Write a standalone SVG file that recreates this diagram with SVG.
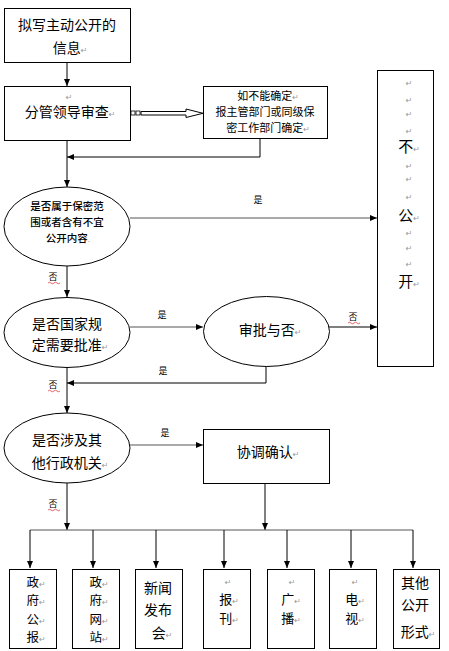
<svg xmlns="http://www.w3.org/2000/svg" width="449" height="651" viewBox="0 0 449 651">
<style>
.bx{fill:#fff;stroke:#000;stroke-width:1}
.t{font-family:"Noto Sans CJK SC","Noto Sans",sans-serif;font-size:14px;fill:#000;text-anchor:middle}
.s{font-size:10.5px}
.m{font-size:11px}
.v{font-size:12.5px}
.w{font-size:13px}
.lb{font-family:"Noto Sans CJK SC",sans-serif;font-size:9px;fill:#000;text-anchor:middle}
.p{font-family:"DejaVu Sans",sans-serif;font-size:8px;fill:#999}
.pc{font-family:"DejaVu Sans",sans-serif;font-size:8px;fill:#999;text-anchor:middle}
.c{fill:none;stroke:#000;stroke-width:1}
.g{stroke:#555}
</style>
<defs>
<marker id="a" markerWidth="7" markerHeight="6" refX="7" refY="3" orient="auto" markerUnits="userSpaceOnUse"><path d="M0,0 L7,3 L0,6 z" fill="#000"/></marker>
</defs>
<rect width="449" height="651" fill="#fff"/>
<g id="connectors">
<path class="c" d="M67,62 V86" marker-end="url(#a)"/>
<path class="c" d="M67,140 V187" marker-end="url(#a)"/>
<path class="c" d="M260,139 V157 H67" marker-end="url(#a)"/>
<path class="c g" d="M130,218 H377" marker-end="url(#a)"/>
<path class="c" d="M67,265 V297" marker-end="url(#a)"/>
<path class="c g" d="M130,327 H203" stroke-width="1.5" marker-end="url(#a)"/>
<path class="c" d="M329,327 H377" marker-end="url(#a)"/>
<path class="c" d="M266,366 V383 H67" marker-end="url(#a)"/>
<path class="c" d="M67,367 V413" marker-end="url(#a)"/>
<path class="c g" d="M130,445 H203" stroke-width="1.5" marker-end="url(#a)"/>
<path class="c" d="M67,483 V530" marker-end="url(#a)"/>
<path class="c" d="M265,483 V530" marker-end="url(#a)"/>
<path class="c g" d="M30,530 H413"/>
<path class="c" d="M30,530 V568" marker-end="url(#a)"/>
<path class="c" d="M93,530 V568" marker-end="url(#a)"/>
<path class="c" d="M156,530 V568" marker-end="url(#a)"/>
<path class="c" d="M224,530 V568" marker-end="url(#a)"/>
<path class="c" d="M287,530 V568" marker-end="url(#a)"/>
<path class="c" d="M351,530 V568" marker-end="url(#a)"/>
<path class="c" d="M413,530 V568" marker-end="url(#a)"/>
<g id="hollow-arrow">
<rect x="131" y="111" width="4" height="4" fill="#fff" stroke="#000" stroke-width="0.8"/>
<rect x="136" y="111" width="4" height="4" fill="#fff" stroke="#000" stroke-width="0.8"/>
<path d="M141,111.5 H186 V109 L203,113.3 L186,117.5 V115 H141 Z" fill="#fff" stroke="#000" stroke-width="1"/>
</g>
<g id="labels">
<text class="lb" x="258" y="203">是</text>
<text class="lb" x="53" y="280">否</text>
<path d="M48,283 q1.5,-1.5 3,0 t3,0 t3,0 t3,0" fill="none" stroke="#c00" stroke-width="0.6"/>
<text class="lb" x="162" y="318">是</text>
<text class="lb" x="353" y="320">否</text>
<path d="M348,323 q1.5,-1.5 3,0 t3,0 t3,0 t3,0" fill="none" stroke="#c00" stroke-width="0.6"/>
<text class="lb" x="163" y="374">是</text>
<text class="lb" x="53" y="388">否</text>
<path d="M48,391 q1.5,-1.5 3,0 t3,0 t3,0 t3,0" fill="none" stroke="#c00" stroke-width="0.6"/>
<text class="lb" x="165" y="436">是</text>
<text class="lb" x="53" y="507">否</text>
<path d="M48,510 q1.5,-1.5 3,0 t3,0 t3,0 t3,0" fill="none" stroke="#c00" stroke-width="0.6"/>
</g>
</g>
<g id="n1">
<rect class="bx" x="4.5" y="8.5" width="126" height="54"/>
<text class="t"><tspan x="67" y="30">拟写主动公开的</tspan><tspan x="70" y="53">信息<tspan class="p">↵</tspan></tspan></text>
</g>
<g id="n2">
<rect class="bx" x="4.5" y="86.5" width="126" height="54"/>
<text class="t"><tspan class="pc" x="69" y="100">↵</tspan><tspan x="70" y="117">分管领导审查<tspan class="p">↵</tspan></tspan></text>
</g>
<g id="n3">
<rect class="bx" x="203.5" y="86.5" width="124" height="52"/>
<text class="t m"><tspan x="268" y="100">如不能确定<tspan class="p">↵</tspan></tspan><tspan x="265" y="116">报主管部门或同级保</tspan><tspan x="268" y="132">密工作部门确定<tspan class="p">↵</tspan></tspan></text>
</g>
<g id="n4">
<rect class="bx" x="377.5" y="70.5" width="56" height="296"/>
<text class="pc"><tspan x="409" y="86">↵</tspan><tspan x="409" y="103">↵</tspan><tspan x="409" y="117">↵</tspan><tspan x="409" y="134">↵</tspan></text>
<text class="t" x="409" y="152" style="font-size:15px">不<tspan class="p">↵</tspan></text>
<text class="pc"><tspan x="409" y="169">↵</tspan><tspan x="409" y="182">↵</tspan><tspan x="409" y="200">↵</tspan></text>
<text class="t" x="409" y="221" style="font-size:15px">公<tspan class="p">↵</tspan></text>
<text class="pc"><tspan x="409" y="236">↵</tspan><tspan x="409" y="251">↵</tspan><tspan x="409" y="267">↵</tspan></text>
<text class="t" x="409" y="287" style="font-size:15px">开<tspan class="p">↵</tspan></text>
</g>
<g id="e1">
<ellipse class="bx" cx="67" cy="226.5" rx="63" ry="39.5"/>
<text class="t s" font-weight="500"><tspan x="67" y="210">是否属于保密范</tspan><tspan x="67" y="226">围或者含有不宜</tspan><tspan x="68" y="242">公开内容<tspan class="p">.</tspan></tspan></text>
</g>
<g id="e2">
<ellipse class="bx" cx="67" cy="332.5" rx="63" ry="35"/>
<text class="t"><tspan x="67" y="329">是否国家规</tspan><tspan x="70" y="350">定需要批准<tspan class="p">↵</tspan></tspan></text>
</g>
<g id="e3">
<ellipse class="bx" cx="266.5" cy="331.5" rx="63" ry="35"/>
<text class="t" x="270" y="335">审批与否<tspan class="p">↵</tspan></text>
</g>
<g id="e4">
<ellipse class="bx" cx="67" cy="448" rx="63" ry="35"/>
<text class="t"><tspan x="67" y="445">是否涉及其</tspan><tspan x="70" y="468">他行政机关<tspan class="p">↵</tspan></tspan></text>
</g>
<g id="n5">
<rect class="bx" x="203.5" y="429.5" width="126" height="54"/>
<text class="t" x="268" y="457">协调确认<tspan class="p">↵</tspan></text>
</g>
<g id="b1">
<rect class="bx" x="9.5" y="569.5" width="47" height="79"/>
<text class="t v"><tspan x="36" y="587">政<tspan class="p">↵</tspan></tspan><tspan x="36" y="605.3">府<tspan class="p">↵</tspan></tspan><tspan x="36" y="623.6">公<tspan class="p">↵</tspan></tspan><tspan x="36" y="642">报<tspan class="p">↵</tspan></tspan></text>
</g>
<g id="b2">
<rect class="bx" x="72.5" y="569.5" width="47" height="79"/>
<text class="t v"><tspan x="99" y="587">政<tspan class="p">↵</tspan></tspan><tspan x="99" y="605.3">府<tspan class="p">↵</tspan></tspan><tspan x="99" y="623.6">网<tspan class="p">↵</tspan></tspan><tspan x="99" y="642">站<tspan class="p">↵</tspan></tspan></text>
</g>
<g id="b3">
<rect class="bx" x="135.5" y="569.5" width="47" height="79"/>
<text class="t"><tspan x="158" y="593">新闻</tspan><tspan x="158" y="615">发布</tspan><tspan x="162" y="638">会<tspan class="p">↵</tspan></tspan></text>
</g>
<g id="b4">
<rect class="bx" x="203.5" y="569.5" width="47" height="79"/>
<text class="t w"><tspan class="pc" x="228" y="585">↵</tspan><tspan x="229" y="604">报<tspan class="p">↵</tspan></tspan><tspan x="229" y="623">刊<tspan class="p">↵</tspan></tspan></text>
</g>
<g id="b5">
<rect class="bx" x="267.5" y="569.5" width="47" height="79"/>
<text class="t w"><tspan class="pc" x="292" y="585">↵</tspan><tspan x="291" y="604">广<tspan class="p">↵</tspan></tspan><tspan x="291" y="623">播<tspan class="p">↵</tspan></tspan></text>
</g>
<g id="b6">
<rect class="bx" x="329.5" y="569.5" width="47" height="79"/>
<text class="t w"><tspan class="pc" x="355" y="585">↵</tspan><tspan x="355" y="604">电<tspan class="p">↵</tspan></tspan><tspan x="355" y="623">视<tspan class="p">↵</tspan></tspan></text>
</g>
<g id="b7">
<rect class="bx" x="393.5" y="569.5" width="46" height="79"/>
<text class="t"><tspan x="415" y="588">其他</tspan><tspan x="415" y="610">公开</tspan><tspan x="418" y="637">形式<tspan class="p">↵</tspan></tspan></text>
</g>
</svg>
